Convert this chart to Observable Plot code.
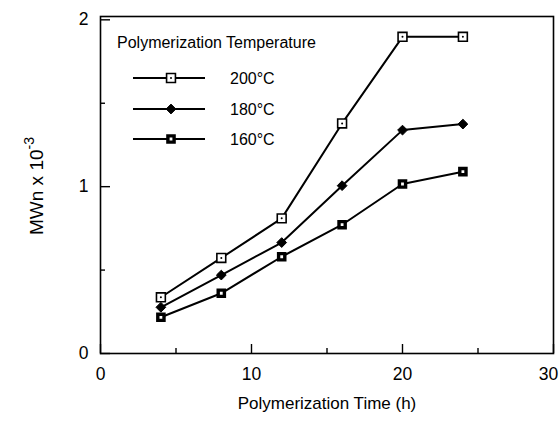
<!DOCTYPE html>
<html><head><meta charset="utf-8">
<script src="https://cdn.jsdelivr.net/npm/d3@7"></script>
<script src="https://cdn.jsdelivr.net/npm/@observablehq/plot@0.6"></script>
<style>body{margin:0;background:#fff} #chart{width:559px;height:435px}</style>
</head><body><div id="chart"></div>
<script>
const times = [4, 8, 12, 16, 20, 24];
const series = ["200°C", "180°C", "160°C"];
const mw200 = [0.337, 0.573, 0.81, 1.379, 1.898, 1.898];
const mw180 = [0.277, 0.47, 0.665, 1.006, 1.339, 1.375];
const mw160 = [0.217, 0.361, 0.58, 0.772, 1.016, 1.09];
const xTicks = [0, 10, 20, 30];
const xMinor = [5, 15, 25];
const yTicks = [0, 1, 2];
const yMinor = [0.5, 1.5];
const legendTitle = "Polymerization Temperature";
const xLabel = "Polymerization Time (h)";
const yLabelMain = "MWn x 10";
const yLabelExp = "-3";

const values = [mw200, mw180, mw160];
const rows = [];
series.forEach((s, i) => times.forEach((t, j) => rows.push({series: s, time: t, mw: values[i][j]})));
const d200 = rows.filter(d => d.series === series[0]);
const d180 = rows.filter(d => d.series === series[1]);
const d160 = rows.filter(d => d.series === series[2]);

const font = "Liberation Sans, Arial, sans-serif";
const plot = Plot.plot({
  width: 559, height: 435,
  marginLeft: 100, marginRight: 6, marginTop: 16, marginBottom: 82,
  style: {fontFamily: font, color: "black", background: "white"},
  x: {domain: [0, 30]},
  y: {domain: [0, 2.02]},
  marks: [
    Plot.frame({stroke: "black", strokeWidth: 1.6}),
    Plot.axisX({ticks: xTicks, tickSize: -9, strokeWidth: 1.4, tickFormat: () => "", label: null}),
    Plot.axisX({ticks: xMinor, tickSize: -5, strokeWidth: 1.4, tickFormat: () => "", label: null}),
    Plot.axisX({ticks: xTicks.slice(0, -1), tickSize: 0, tickPadding: 14, fontSize: 17.5, tickFormat: d3.format("d"), label: null}),
    Plot.axisX({ticks: xTicks.slice(-1), tickSize: 0, tickPadding: 14, fontSize: 17.5, dx: -5, tickFormat: d3.format("d"), label: null}),
    Plot.axisY({ticks: yTicks, tickSize: -10, strokeWidth: 1.4, tickFormat: () => "", label: null}),
    Plot.axisY({ticks: yMinor, tickSize: -5, strokeWidth: 1.4, tickFormat: () => "", label: null}),
    Plot.axisY({ticks: yTicks, tickSize: 0, tickPadding: 12, fontSize: 17.5, tickFormat: d3.format("d"), label: null}),
    Plot.text([xLabel], {frameAnchor: "bottom", dy: 55, fontSize: 17, text: d => d}),
    Plot.line(rows, {x: "time", y: "mw", z: "series", stroke: "black", strokeWidth: 2}),
    Plot.dot(d200, {x: "time", y: "mw", symbol: "square", r: 5, fill: "white", stroke: "black", strokeWidth: 1.6}),
    Plot.dot(d200, {x: "time", y: "mw", r: 1, fill: "black"}),
    Plot.dot(d180, {x: "time", y: "mw", symbol: "diamond2", r: 4.4, fill: "black", stroke: "black", strokeWidth: 1}),
    Plot.dot(d160, {x: "time", y: "mw", symbol: "square", r: 3.5, fill: "white", stroke: "black", strokeWidth: 3.4})
  ]
});
document.getElementById("chart").appendChild(plot);

const svg = d3.select(plot);
// y axis label with superscript
const yl = svg.append("text").attr("transform", "translate(43,186) rotate(-90)")
  .attr("text-anchor", "middle").attr("font-family", font).attr("font-size", 19).attr("fill", "black");
yl.append("tspan").text(yLabelMain);
yl.append("tspan").attr("font-size", 14).attr("dy", -9).text(yLabelExp);

// legend
const g = svg.append("g").attr("font-family", font).attr("text-anchor", "start");
g.append("text").attr("x", 117).attr("y", 48).attr("font-size", 16).attr("fill", "black").text(legendTitle);
const rowY = [78, 109, 139];
const styles = [
  {type: d3.symbolSquare, r: 5, fill: "white", sw: 1.6, dot: true},
  {type: d3.symbolDiamond2, r: 4.4, fill: "black", sw: 1, dot: false},
  {type: d3.symbolSquare, r: 3.5, fill: "white", sw: 3.4, dot: false}
];
series.forEach((s, i) => {
  const y = rowY[i];
  const st = styles[i];
  g.append("line").attr("x1", 133).attr("x2", 205).attr("y1", y).attr("y2", y).attr("stroke", "black").attr("stroke-width", 2);
  g.append("path").attr("transform", `translate(171,${y})`).attr("d", d3.symbol(st.type, Math.PI * st.r * st.r)())
    .attr("fill", st.fill).attr("stroke", "black").attr("stroke-width", st.sw);
  if (st.dot) g.append("circle").attr("cx", 171).attr("cy", y).attr("r", 1).attr("fill", "black");
  g.append("text").attr("x", 230).attr("y", y).attr("dy", "0.36em").attr("font-size", 16).attr("fill", "black").text(s);
});
</script></body></html>
